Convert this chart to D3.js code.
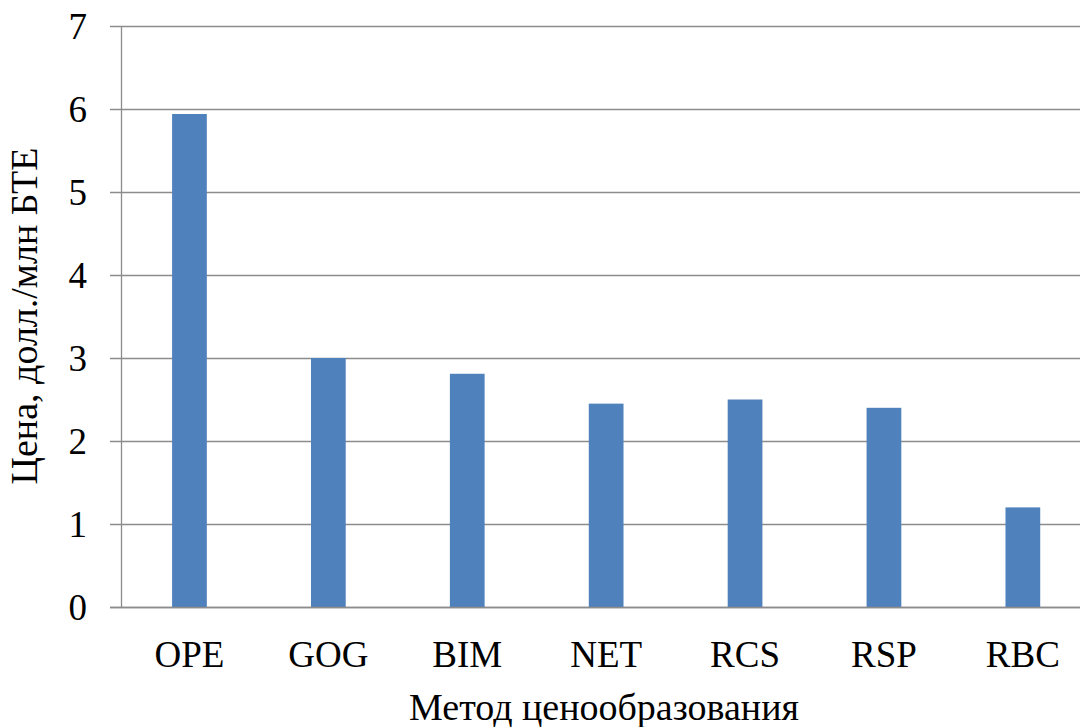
<!DOCTYPE html>
<html>
<head>
<meta charset="utf-8">
<script src="https://cdn.jsdelivr.net/npm/d3@7"></script>
<style>
  html, body { margin: 0; padding: 0; background: #fff; overflow: hidden; }
  svg { display: block; }
  svg text { font-family: "Times New Roman", "Liberation Serif", Tinos, "DejaVu Serif", "Noto Serif", serif; }
</style>
</head>
<body>
<svg id="chart" width="1080" height="727"></svg>
<script>
// Gas price by pricing method
const methods = ["OPE", "GOG", "BIM", "NET", "RCS", "RSP", "RBC"];
const prices = [5.94, 3.0, 2.81, 2.45, 2.5, 2.4, 1.2];
const yTicks = [0, 1, 2, 3, 4, 5, 6, 7];
const yTitle = "Цена, долл./млн БТЕ";
const xTitle = "Метод ценообразования";

const svg = d3.select("#chart");
const plotLeft = 122, plotTop = 26, plotBottom = 607;
const bandStart = 120, bandW = 138.9;

const x = d3.scaleBand()
  .domain(methods)
  .range([bandStart, bandStart + bandW * methods.length])
  .paddingInner(0.75)
  .paddingOuter(0.375);

const y = d3.scaleLinear().domain([0, 7]).range([plotBottom, plotTop]);

// horizontal gridlines with short tick stubs to the left of the axis
svg.append("g")
  .selectAll("line")
  .data(yTicks)
  .join("line")
  .attr("x1", plotLeft - 12)
  .attr("x2", 1080)
  .attr("y1", d => Math.round(y(d)) + 0.5)
  .attr("y2", d => Math.round(y(d)) + 0.5)
  .attr("stroke", "#8c8c8c")
  .attr("stroke-width", 1.3);

// vertical axis line
svg.append("line")
  .attr("x1", plotLeft - 0.5).attr("x2", plotLeft - 0.5)
  .attr("y1", plotTop).attr("y2", plotBottom)
  .attr("stroke", "#8c8c8c")
  .attr("stroke-width", 1.3);

// y tick labels
svg.append("g")
  .selectAll("text")
  .data(yTicks)
  .join("text")
  .attr("x", 87)
  .attr("y", d => y(d))
  .attr("dy", "0.35em")
  .attr("text-anchor", "end")
  .attr("font-size", 37)
  .text(d => d);

// bars
svg.append("g")
  .selectAll("rect")
  .data(methods)
  .join("rect")
  .attr("x", d => x(d))
  .attr("width", x.bandwidth())
  .attr("y", (d, i) => y(prices[i]))
  .attr("height", (d, i) => y(0) - y(prices[i]))
  .attr("fill", "#4f81bd");

// redraw baseline on top of bars
svg.append("line")
  .attr("x1", plotLeft - 12).attr("x2", 1080)
  .attr("y1", Math.round(y(0)) + 0.5).attr("y2", Math.round(y(0)) + 0.5)
  .attr("stroke", "#8c8c8c")
  .attr("stroke-width", 1.3);

// category labels
svg.append("g")
  .selectAll("text")
  .data(methods)
  .join("text")
  .attr("x", d => x(d) + x.bandwidth() / 2)
  .attr("y", 667)
  .attr("text-anchor", "middle")
  .attr("font-size", 37)
  .text(d => d);

// axis titles
svg.append("text")
  .attr("x", 604)
  .attr("y", 720)
  .attr("text-anchor", "middle")
  .attr("font-size", 38)
  .text(xTitle);

svg.append("text")
  .attr("transform", "translate(37,316) rotate(-90)")
  .attr("text-anchor", "middle")
  .attr("font-size", 38)
  .text(yTitle);
</script>
</body>
</html>
